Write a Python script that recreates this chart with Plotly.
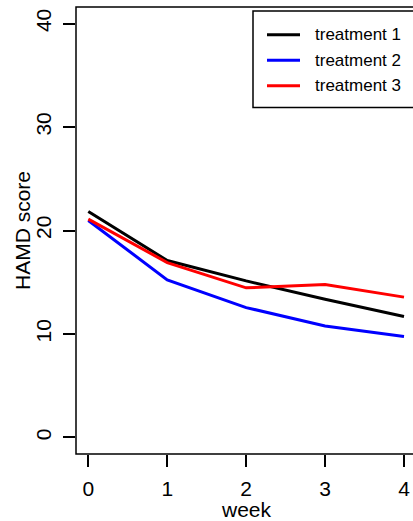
import plotly.graph_objects as go

weeks = [0, 1, 2, 3, 4]
treatment1 = [21.84, 17.1, 15.13, 13.36, 11.69]
treatment2 = [20.97, 15.23, 12.55, 10.78, 9.75]
treatment3 = [21.1, 16.9, 14.46, 14.78, 13.56]
series_names = ["treatment 1", "treatment 2", "treatment 3"]
series_colors = ["black", "blue", "red"]
y_ticks = [0, 10, 20, 30, 40]
x_ticks = [0, 1, 2, 3, 4]
x_title = "week"
y_title = "HAMD score"

FONT = "Liberation Sans, Arial, sans-serif"
W, H = 413, 521
ML, MR, MT, MB = 76, 0, 7, 67
PW, PH = W - ML - MR, H - MT - MB


def px_x(px):
    return (px - ML) / PW


def px_y(py):
    return (H - MB - py) / PH


fig = go.Figure()
for name, vals, col in zip(series_names, [treatment1, treatment2, treatment3], series_colors):
    fig.add_trace(go.Scatter(x=weeks, y=vals, mode="lines", name=name,
                             line=dict(color=col, width=3)))

shapes = [dict(type="rect", xref="paper", yref="paper", x0=0, x1=1.05, y0=0, y1=1,
               line=dict(color="black", width=1.5), layer="above")]
annotations = []

# legend (drawn by hand, box runs past the right edge like the reference)
shapes.append(dict(type="rect", xref="paper", yref="paper",
                   x0=px_x(253), x1=1.1, y0=px_y(107.5), y1=px_y(11),
                   line=dict(color="black", width=1.5), fillcolor="white", layer="above"))
row_y = [34.7, 60.2, 85.7]
for name, col, ry in zip(series_names, series_colors, row_y):
    shapes.append(dict(type="line", xref="paper", yref="paper",
                       x0=px_x(267), x1=px_x(300), y0=px_y(ry), y1=px_y(ry),
                       line=dict(color=col, width=3), layer="above"))
    annotations.append(dict(text=name, xref="paper", yref="paper", x=px_x(312.5), y=px_y(ry),
                            xanchor="left", yanchor="middle", showarrow=False,
                            font=dict(size=17, family=FONT, color="black")))

annotations.append(dict(text=x_title, xref="x", yref="paper", x=2, y=px_y(509.5),
                        xanchor="center", yanchor="middle", showarrow=False,
                        font=dict(size=21, family=FONT, color="black")))
annotations.append(dict(text=y_title, xref="paper", yref="paper", x=px_x(22.5), y=0.5,
                        xanchor="center", yanchor="middle", showarrow=False, textangle=-90,
                        font=dict(size=21, family=FONT, color="black")))

fig.update_layout(
    width=W, height=H,
    margin=dict(l=ML, r=MR, t=MT, b=MB, pad=0),
    paper_bgcolor="white", plot_bgcolor="white",
    font=dict(family=FONT, size=21, color="black"),
    showlegend=False,
    xaxis=dict(range=[-0.156, 4.114], tickvals=x_ticks, ticktext=[str(v) for v in x_ticks],
               ticks="outside", ticklen=12, tickwidth=1.5, tickcolor="black",
               showgrid=False, zeroline=False, showline=False,
               ticklabelstandoff=4),
    yaxis=dict(range=[-1.6, 41.6], tickvals=y_ticks, ticktext=[str(v) for v in y_ticks],
               ticks="outside", ticklen=12, tickwidth=1.5, tickcolor="black",
               tickangle=-90,
               showgrid=False, zeroline=False, showline=False,
               ticklabelstandoff=4),
    shapes=shapes,
    annotations=annotations,
)

fig.write_html("out.html")
